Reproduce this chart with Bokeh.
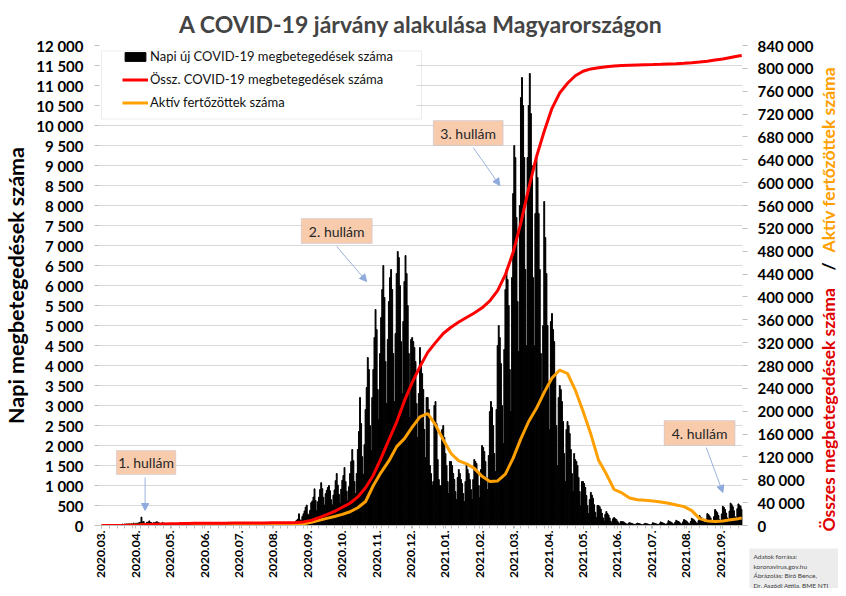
import math
from bokeh.plotting import figure
from bokeh.models import (Range1d, LinearAxis, FixedTicker, Legend, LegendItem, Label,
                          BoxAnnotation, Arrow, NormalHead)
from bokeh.embed import file_html
from bokeh.resources import INLINE

# ---------------- data (day index 0 = 2020-03-04) ----------------
daily_new_cases = [
    2, 0, 3, 2, 2, 1, 2,
    4, 3, 6, 2, 2, 7, 11,
    11, 15, 12, 18, 18, 36, 20,
    36, 35, 40, 38, 42, 35, 45,
    33, 62, 38, 55, 55, 60, 73,
    78, 210, 85, 100, 55, 50, 81,
    70, 115, 80, 70, 50, 71, 66,
    83, 93, 78, 65, 50, 43, 78,
    42, 60, 47, 36, 47, 42, 41,
    38, 32, 32, 24, 33, 27, 24,
    22, 24, 33, 25, 25, 22, 35,
    36, 33, 16, 15, 12, 12, 20,
    18, 22, 17, 15, 12, 10, 10,
    11, 6, 6, 9, 6, 6, 7,
    6, 9, 11, 11, 8, 6, 4,
    5, 5, 4, 8, 6, 3, 6,
    2, 8, 10, 9, 10, 12, 10,
    8, 3, 6, 10, 8, 5, 3,
    5, 8, 13, 16, 12, 11, 22,
    8, 17, 10, 19, 12, 13, 9,
    7, 11, 14, 22, 12, 17, 19,
    25, 17, 14, 20, 15, 10, 23,
    21, 22, 19, 14, 10, 14, 30,
    28, 24, 35, 30, 17, 21, 22,
    32, 47, 40, 48, 32, 36, 61,
    108, 132, 160, 292, 140, 131, 225,
    292, 364, 459, 510, 286, 261, 380,
    570, 614, 711, 916, 624, 376, 593,
    710, 900, 1070, 920, 705, 512, 795,
    880, 950, 1000, 870, 645, 515, 760,
    890, 1120, 1300, 1010, 780, 550, 910,
    1130, 1250, 1450, 1100, 860, 620, 970,
    1300, 1600, 1900, 1620, 1100, 800, 1300,
    1900, 2350, 3200, 2550, 1720, 1280, 2020,
    2900, 3450, 4200, 3900, 2500, 1870, 3200,
    3900, 4700, 5400, 4900, 3400, 2650, 4300,
    5200, 5900, 6500, 5700, 4100, 3050, 4650,
    5600, 6200, 6400, 5900, 4300, 3100, 4800,
    6300, 6850, 6700, 6000, 4600, 3300, 5100,
    6100, 6750, 6300, 5500, 4300, 2700, 4650,
    4700, 4600, 4450, 4100, 3050, 2200, 3300,
    4450, 4100, 3800, 3400, 2400, 1700, 3200,
    3200, 2900, 1500, 1300, 1000, 1100, 3000,
    3100, 2550, 1650, 1150, 1000, 990, 2400,
    2500, 2200, 1800, 1500, 1100, 800, 1600,
    1600, 1500, 1300, 1150, 850, 650, 1200,
    1400, 1300, 1150, 1050, 800, 600, 1100,
    1500, 1400, 1300, 1150, 900, 650, 1150,
    1650, 1600, 1550, 1300, 1000, 700, 1400,
    2000, 1950, 1850, 1600, 1200, 900, 1750,
    2850, 3100, 2950, 2500, 1800, 1350, 2900,
    4500, 5000, 4700, 4050, 3000, 2050, 4400,
    5900, 6400, 6150, 5500, 3900, 2850, 6200,
    8300, 9500, 9200, 7700, 5600, 4350, 8000,
    10700, 11200, 10500, 9200, 6400, 4500, 9200,
    10500, 11300, 10300, 9000, 6200, 4500, 7800,
    9200, 8700, 7800, 6400, 4300, 3200, 5000,
    8100, 7200, 6300, 5000, 3600, 2400, 5100,
    5300, 4900, 4600, 3800, 2500, 1500, 3200,
    3500, 3400, 3100, 2600, 1800, 1100, 2400,
    2600, 2500, 2300, 1900, 1300, 850, 1800,
    1650, 1600, 1500, 1200, 850, 500, 1100,
    1100, 1050, 950, 750, 500, 300, 650,
    830, 760, 680, 520, 330, 200, 500,
    500, 470, 410, 310, 190, 110, 280,
    350, 300, 260, 190, 110, 60, 170,
    200, 170, 150, 110, 70, 40, 100,
    100, 95, 80, 60, 40, 25, 60,
    70, 60, 55, 40, 30, 20, 45,
    60, 50, 45, 35, 25, 15, 40,
    55, 45, 40, 30, 25, 15, 35,
    70, 55, 50, 40, 30, 20, 45,
    90, 75, 65, 50, 35, 25, 60,
    120, 100, 90, 70, 45, 30, 80,
    130, 110, 100, 80, 50, 35, 90,
    150, 130, 115, 90, 55, 40, 100,
    180, 160, 140, 110, 70, 50, 120,
    250, 210, 190, 150, 90, 60, 160,
    300, 270, 240, 190, 110, 80, 220,
    400, 360, 320, 250, 150, 100, 290,
    480, 450, 400, 310, 190, 130, 360,
    560, 520, 470, 370, 220, 160, 420,
    540, 510, 480, 400,
]
days = list(range(len(daily_new_cases)))

line_days = [0, 7, 14, 21, 28, 35, 42, 49, 56, 63, 70, 77, 84, 91, 98, 105, 112, 119, 126,
             133, 140, 147, 154, 161, 168, 175, 182, 189, 196, 203, 210, 217, 224, 231, 238,
             245, 252, 259, 266, 273, 280, 287, 294, 301, 308, 315, 322, 329, 336, 343, 350,
             357, 364, 371, 378, 385, 392, 399, 406, 413, 420, 427, 434, 441, 448, 455, 462,
             469, 476, 483, 490, 497, 504, 511, 518, 525, 532, 539, 546, 553, 560, 567, 574, 577]
total_cases = [2, 13, 50, 230, 590, 900, 1600, 2200, 2700, 3100, 3300, 3600, 3800, 3900, 4000,
               4100, 4100, 4200, 4200, 4300, 4400, 4500, 4600, 4700, 4900, 5200, 6300, 9000,
               13900, 18900, 24600, 32000, 39000, 50000, 66000, 88000, 118000, 150000, 181000,
               218000, 250000, 278000, 303000, 320000, 336000, 347000, 356000, 364000, 372000,
               381000, 393000, 411000, 439000, 478000, 530000, 590000, 645000, 690000, 730000,
               757000, 774000, 787000, 795000, 799000, 801000, 803000, 804000, 805000, 805500,
               806000, 806300, 806600, 807000, 807500, 808000, 808800, 809800, 811000, 812500,
               814500, 816500, 819000, 821500, 822500]
active_cases = [0, 10, 50, 200, 500, 800, 1200, 1600, 1700, 1800, 1700, 1500, 1300, 1100, 1000,
                900, 800, 700, 600, 600, 600, 700, 800, 1000, 1300, 1900, 3000, 5500, 9000,
                12500, 15700, 19500, 24000, 31000, 42000, 70000, 93000, 113000, 138000, 152000,
                172000, 190000, 196000, 176000, 150000, 126000, 113000, 108000, 100000, 86000,
                77000, 78000, 90000, 118000, 152000, 182000, 205000, 233000, 258000, 272000,
                266000, 237000, 200000, 160000, 114000, 90000, 63000, 57000, 48000, 45000,
                44000, 43000, 41000, 39000, 36000, 33000, 26000, 12000, 8000, 7000, 8000,
                10000, 12000, 13000]

month_labels = ["2020.03.", "2020.04.", "2020.05.", "2020.06.", "2020.07.", "2020.08.",
                "2020.09.", "2020.10.", "2020.11.", "2020.12.", "2021.01.", "2021.02.",
                "2021.03.", "2021.04.", "2021.05.", "2021.06.", "2021.07.", "2021.08.",
                "2021.09."]
month_label_days = [0, 31, 62, 93, 124, 155, 186, 217, 248, 279, 310, 341, 372, 403, 434,
                    465, 496, 527, 558]
left_ticks = list(range(0, 12001, 500))
right_ticks = list(range(0, 840001, 40000))

wave_labels = ["1. hullám", "2. hullám", "3. hullám", "4. hullám"]
series_names = ["Napi új COVID-19 megbetegedések száma", "Össz. COVID-19 megbetegedések száma",
                "Aktív fertőzöttek száma"]
source_lines = ["Adatok forrása:", "koronavirus.gov.hu", "Ábrázolás: Bíró Bence,",
                "Dr. Aszódi Attila, BME NTI"]

FONT = "Lato"
W, H = 830, 580

# ---------------- main figure ----------------
p = figure(width=W, height=H, x_range=Range1d(-1.8, 577.7), y_range=Range1d(0, 12000),
           output_backend="svg", toolbar_location=None,
           min_border_left=93, min_border_right=88, min_border_top=45, min_border_bottom=54)
p.extra_y_ranges = {"right": Range1d(0, 840000)}
p.outline_line_color = None

p.title.text = "A COVID-19 járvány alakulása Magyarországon"
p.title.text_font = FONT
p.title.text_font_size = "23px"
p.title.text_font_style = "bold"
p.title.align = "center"
p.title.standoff = 15

p.xgrid.visible = False
p.ygrid.ticker = FixedTicker(ticks=left_ticks)
p.ygrid.grid_line_color = "#d9d9d9"

xa = p.xaxis[0]
xa.ticker = FixedTicker(ticks=month_label_days, minor_ticks=list(range(0, 578, 7)))
xa.major_label_overrides = {d: s for d, s in zip(month_label_days, month_labels)}
xa.major_label_orientation = math.pi / 2
xa.major_label_text_font = FONT
xa.major_label_text_font_style = "bold"
xa.major_label_text_font_size = "12px"
xa.major_label_text_color = "black"
xa.major_label_standoff = 2
xa.axis_line_color = "#bfbfbf"
xa.major_tick_line_color = "#bfbfbf"
xa.major_tick_out = 3
xa.major_tick_in = 0
xa.minor_tick_line_color = "#bfbfbf"
xa.minor_tick_out = 3
xa.minor_tick_in = 0

ya = p.yaxis[0]
ya.ticker = FixedTicker(ticks=left_ticks, minor_ticks=[])
ya.major_label_overrides = {v: f"{v:,}".replace(",", " ") for v in left_ticks}
ya.major_label_text_font = FONT
ya.major_label_text_font_style = "bold"
ya.major_label_text_font_size = "15px"
ya.major_label_text_color = "black"
ya.axis_line_color = None
ya.major_tick_line_color = "#bfbfbf"
ya.major_tick_out = 5
ya.major_tick_in = 0
ya.major_label_standoff = 11
ya.axis_label = "Napi megbetegedések száma"
ya.axis_label_text_font = FONT
ya.axis_label_text_font_style = "bold"
ya.axis_label_text_font_size = "21.5px"
ya.axis_label_text_color = "black"
ya.axis_label_standoff = 4

ra = LinearAxis(y_range_name="right", ticker=FixedTicker(ticks=right_ticks, minor_ticks=[]))
ra.major_label_overrides = {v: f"{v:,}".replace(",", " ") for v in right_ticks}
ra.major_label_text_font = FONT
ra.major_label_text_font_style = "bold"
ra.major_label_text_font_size = "15px"
ra.major_label_text_color = "black"
ra.axis_line_color = None
ra.major_tick_line_color = "#bfbfbf"
ra.major_tick_out = 5
ra.major_tick_in = 0
ra.major_label_standoff = 10
p.add_layout(ra, "right")

bars = p.vbar(x=days, top=daily_new_cases, width=0.8, color="black")
orange = p.line(line_days, active_cases, y_range_name="right", color="#ffa000", line_width=3)
red = p.line(line_days, total_cases, y_range_name="right", color="#ff0000", line_width=3)

# legend background (covers grid lines) + legend
p.add_layout(BoxAnnotation(left=-1.8, right=284, top=12100, bottom=10383,
                           fill_color="white", fill_alpha=1, line_color=None))
legend = Legend(items=[LegendItem(label=series_names[0], renderers=[bars]),
                       LegendItem(label=series_names[1], renderers=[red]),
                       LegendItem(label=series_names[2], renderers=[orange])],
                location=(23, 413), padding=0, spacing=3, glyph_width=26, glyph_height=11,
                label_height=20, label_standoff=2, background_fill_alpha=0, border_line_alpha=0,
                label_text_font=FONT, label_text_font_size="13px", label_text_color="#111111")
p.add_layout(legend)

# wave callouts
box_specs = [(13.4, 67, 1875, 1275), (180, 244, 7675, 7050), (299, 362, 10125, 9500),
             (507, 571, 2625, 2000)]
arrow_specs = [(39.3, 1200, 39.3, 375), (212, 6975, 239, 6100), (335, 9450, 359, 8500),
               (545, 1950, 560, 825)]
for (l, r, t, b), (x0, y0, x1, y1), txt in zip(box_specs, arrow_specs, wave_labels):
    p.add_layout(BoxAnnotation(left=l, right=r, top=t, bottom=b, fill_color="#f8cbad", fill_alpha=1,
                               line_color="#9bb3de", line_width=1))
    p.add_layout(Label(x=(l + r) / 2, y=(t + b) / 2, text=txt, text_align="center",
                       text_baseline="middle", text_font=FONT, text_font_size="14px",
                       text_color="#262626"))
    p.add_layout(Arrow(x_start=x0, y_start=y0, x_end=x1, y_end=y1, line_color="#9bb3de",
                       line_width=1, end=NormalHead(size=7, fill_color="#8faadc",
                                                    line_color="#8faadc")))

# ---------------- transparent overlay (screen-pixel coordinates) ----------------
ov = figure(width=W, height=H, x_range=Range1d(0, W), y_range=Range1d(H, 0),
            output_backend="svg", toolbar_location=None, x_axis_type=None, y_axis_type=None,
            min_border=0, styles={"position": "absolute", "left": "8px", "top": "8px"})
ov.grid.visible = False
ov.outline_line_color = None
ov.background_fill_alpha = 0
ov.border_fill_alpha = 0

# legend frame line
ov.add_layout(BoxAnnotation(left=93, right=413, top=42.5, bottom=110.5, fill_alpha=0,
                            line_color="#bfbfbf", line_width=1))

# right-axis multicolour title
for txt, col, ystart in [("Összes megbetegedések száma", "#e00000", 523),
                         ("/", "black", 262),
                         ("Aktív fertőzöttek száma", "#ffa000", 244)]:
    ov.add_layout(Label(x=820, y=ystart, text=txt, angle=math.pi / 2, text_align="left",
                        text_baseline="middle", text_font=FONT, text_font_style="bold",
                        text_font_size="17.5px", text_color=col))

# source box
ov.add_layout(BoxAnnotation(left=741, right=830, top=540, bottom=580, fill_color="#ececec",
                            fill_alpha=1, line_color=None))
for i, txt in enumerate(source_lines):
    ov.add_layout(Label(x=745, y=548 + i * 9.5, text=txt, text_baseline="middle",
                        text_font=FONT, text_font_size="6.5px", text_color="#404040"))

open("out.html", "w").write(file_html([p, ov], INLINE))
